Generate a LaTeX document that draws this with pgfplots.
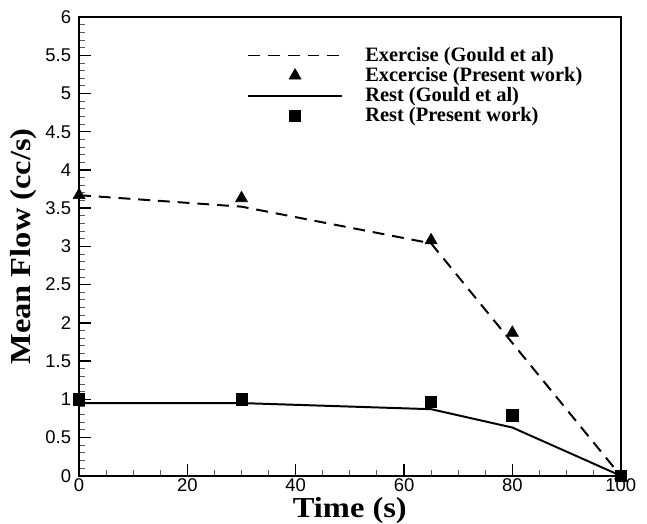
\documentclass[border=0pt]{standalone}
\usepackage{fontspec}
\setmainfont{Liberation Serif}
\newfontfamily\ticksans{Liberation Sans}
\newfontfamily\labelfont[FakeStretch=1.12]{Liberation Serif}
\usepackage{pgfplots}
\pgfplotsset{compat=1.18}
\begin{document}
\begin{tikzpicture}
\begin{axis}[
    scale only axis,
    width=411pt, height=348pt,
    xmin=0, xmax=100, ymin=0, ymax=6,
    xtick={0,20,...,100}, ytick={0,0.5,...,6},
    minor x tick num=3, minor y tick num=4,
    tick align=inside, xtick pos=bottom, ytick pos=left,
    major tick length=9pt, minor tick length=4.5pt,
    major tick style={black, line width=1.1pt},
    minor tick style={black!65, line width=0.7pt},
    axis line style={line width=1.6pt},
    /pgf/number format/assume math mode=true,
    ticklabel style={font=\ticksans\fontsize{14}{16}\selectfont},
    yticklabel style={xshift=-2.5pt},
    xticklabel style={yshift=1pt},
    xlabel={\bfseries Time (s)},
    ylabel={\bfseries Mean Flow (cc/s)},
    label style={font=\labelfont\fontsize{22}{26}\selectfont, inner sep=0pt},
    xlabel style={at={(axis description cs:0.5,0)}, anchor=base, yshift=-31.5pt},
    ylabel style={at={(axis description cs:-0.089,0.5)}, anchor=base},
    legend style={draw=none, fill=none, at={(0.31,0.946)}, anchor=north west,
        inner xsep=0pt,
        font=\bfseries\fontsize{15.5}{17}\selectfont, row sep=-1pt,
        legend cell align=left,
        /tikz/every odd column/.append style={column sep=15pt}},
    legend image code/.code={
        \draw[mark repeat=2,mark phase=2,#1] plot coordinates {(0cm,0cm) (1.25cm,0cm) (2.5cm,0cm)};
    },
    clip=false,
]
\addplot[black, line width=1.5pt, dash pattern=on 9pt off 6pt]
    coordinates {(0,3.67) (30,3.52) (65,3.04) (100,0)};
\addlegendentry{Exercise (Gould et al)}
\addplot[only marks, mark=triangle*, mark size=5.3pt, black]
    coordinates {(0,3.67) (30,3.63) (65,3.08) (80,1.87) (100,0)};
\addlegendentry{Excercise (Present work)}
\addplot[black, line width=1.5pt]
    coordinates {(0,0.95) (30,0.95) (65,0.87) (80,0.63) (100,0)};
\addlegendentry{Rest (Gould et al)}
\addplot[only marks, mark=square*, mark size=4.3pt, black]
    coordinates {(0,1.0) (30,1.0) (65,0.97) (80,0.79) (100,0)};
\addlegendentry{Rest (Present work)}
\path (rel axis cs:1,1) ++(20pt,13pt);
\path (rel axis cs:0,0) ++(-60pt,-34pt);
\end{axis}
\end{tikzpicture}
\end{document}
